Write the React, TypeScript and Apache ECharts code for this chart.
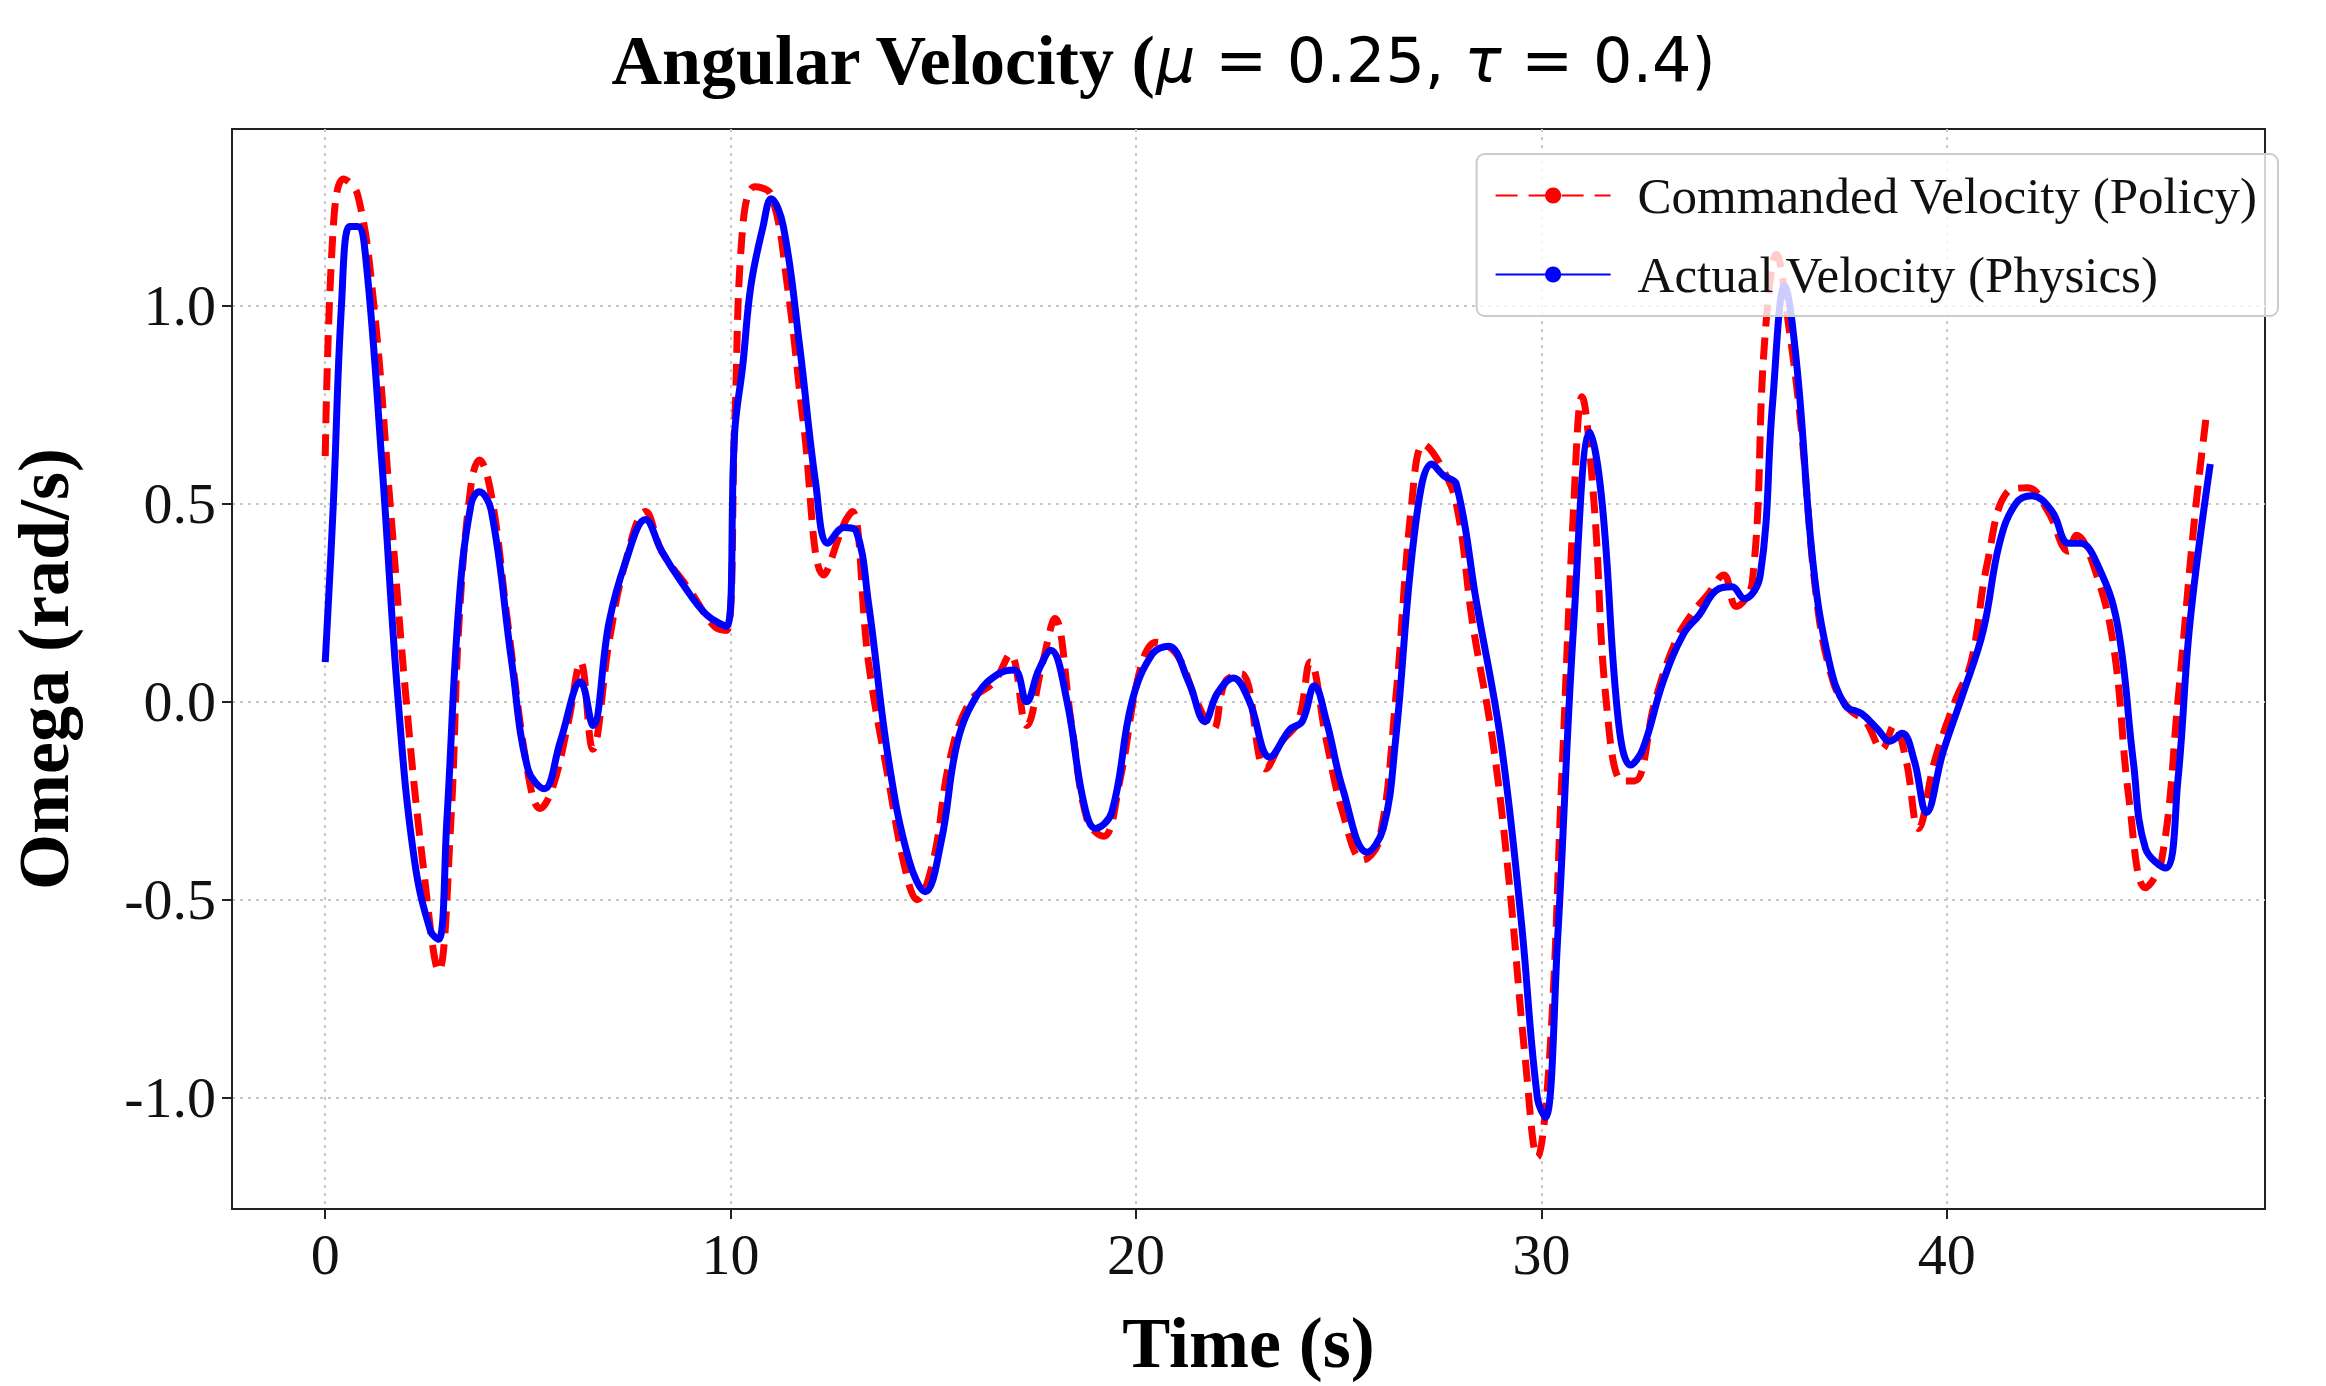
import React, { useEffect, useRef } from "react";
import * as echarts from "echarts";

const cmdT = [0,0.2,0.45,0.8,1.2,1.6,2.0,2.4,2.8,3.1,3.3,3.6,3.8,4.1,4.5,5.0,5.3,5.6,6.0,6.3,6.6,7.0,7.4,7.9,8.3,9.0,9.6,9.9,10.1,10.3,10.6,11.0,11.4,11.8,12.3,12.8,13.0,13.4,13.9,14.3,14.6,15.0,15.4,15.9,16.5,16.9,17.3,17.7,18.0,18.4,18.8,19.2,19.6,20.1,20.5,21.0,21.5,21.9,22.2,22.6,23.2,23.6,24.0,24.3,24.7,25.1,25.6,26.0,26.4,26.8,27.1,27.5,27.9,28.3,28.8,29.2,29.6,29.9,30.2,30.5,30.8,31.0,31.3,31.6,32.0,32.3,32.8,33.3,33.7,34.1,34.5,34.8,35.2,35.5,35.8,36.1,36.4,36.8,37.2,37.6,38.0,38.4,38.7,39.0,39.3,39.7,40.2,40.6,41.0,41.5,42.0,42.5,43.0,43.2,43.6,44.1,44.5,44.9,45.3,45.7,46.1,46.4];
const cmdV = [0.62,1.2,1.32,1.28,1.0,0.5,0.0,-0.4,-0.68,-0.3,0.2,0.55,0.61,0.52,0.2,-0.18,-0.27,-0.22,-0.05,0.1,-0.12,0.15,0.35,0.48,0.38,0.28,0.19,0.18,0.7,1.2,1.3,1.28,1.05,0.7,0.32,0.45,0.48,0.1,-0.2,-0.42,-0.5,-0.4,-0.15,0.0,0.05,0.12,-0.06,0.1,0.21,-0.05,-0.3,-0.34,-0.2,0.08,0.15,0.12,0.0,-0.07,0.05,0.07,-0.17,-0.1,-0.05,0.1,-0.1,-0.28,-0.4,-0.35,0.0,0.5,0.65,0.6,0.5,0.2,-0.1,-0.45,-0.9,-1.15,-0.9,-0.2,0.5,0.77,0.5,0.0,-0.2,-0.2,0.0,0.15,0.22,0.27,0.32,0.24,0.3,0.9,1.13,0.95,0.7,0.25,0.05,-0.02,-0.05,-0.12,-0.06,-0.15,-0.32,-0.15,0.0,0.1,0.35,0.53,0.54,0.48,0.38,0.42,0.35,0.15,-0.25,-0.47,-0.4,0.0,0.45,0.72];
const actT = [0,0.2,0.4,0.6,0.8,1.0,1.4,1.8,2.2,2.6,2.8,3.0,3.3,3.6,3.8,4.1,4.6,5.0,5.4,5.8,6.3,6.6,7.0,7.4,7.9,8.3,8.8,9.4,9.9,10.1,10.3,10.5,10.8,11.0,11.3,11.7,12.1,12.4,12.8,13.1,13.4,13.9,14.4,14.8,15.2,15.6,16.1,16.6,17.0,17.3,17.6,17.9,18.3,18.7,19.0,19.4,19.9,20.4,20.8,21.3,21.7,22.0,22.4,22.8,23.3,23.8,24.1,24.4,24.7,25.1,25.7,26.1,26.4,26.9,27.3,27.6,27.9,28.4,29.0,29.5,29.9,30.1,30.4,30.8,31.2,31.5,31.9,32.2,32.5,33.0,33.5,33.9,34.3,34.7,35.0,35.4,35.7,36.0,36.3,36.7,37.1,37.5,37.9,38.3,38.6,38.9,39.2,39.5,39.9,40.4,40.9,41.3,41.7,42.1,42.6,43.0,43.3,43.7,44.2,44.6,44.9,45.4,45.7,46.0,46.5];
const actV = [0.1,0.5,1.0,1.2,1.2,1.12,0.6,0.0,-0.4,-0.58,-0.6,-0.3,0.25,0.5,0.53,0.48,0.1,-0.17,-0.22,-0.1,0.05,-0.06,0.2,0.35,0.46,0.38,0.3,0.22,0.19,0.68,0.85,1.05,1.2,1.27,1.2,0.9,0.55,0.4,0.44,0.43,0.25,-0.15,-0.4,-0.48,-0.35,-0.1,0.02,0.07,0.08,0.0,0.08,0.13,0.0,-0.25,-0.32,-0.28,0.0,0.12,0.14,0.05,-0.05,0.02,0.06,0.0,-0.14,-0.07,-0.05,0.04,-0.05,-0.22,-0.38,-0.32,-0.1,0.45,0.6,0.57,0.55,0.25,-0.1,-0.55,-1.0,-1.05,-0.6,0.2,0.68,0.5,-0.05,-0.16,-0.12,0.05,0.17,0.22,0.28,0.29,0.26,0.32,0.75,1.05,0.85,0.35,0.1,-0.01,-0.03,-0.07,-0.1,-0.08,-0.15,-0.28,-0.13,0.02,0.18,0.4,0.5,0.52,0.48,0.4,0.4,0.35,0.2,-0.15,-0.37,-0.42,-0.2,0.2,0.6];
const xTicks = [0, 10, 20, 30, 40];
const yTicks = [-1.0, -0.5, 0.0, 0.5, 1.0];

const serif = "'Liberation Serif', 'Times New Roman', serif";
const sans = "'DejaVu Sans', sans-serif";

export default function App() {
  const ref = useRef<HTMLDivElement>(null);
  useEffect(() => {
    const chart = echarts.init(ref.current!, null, { renderer: "svg" });
    chart.setOption({
      animation: false,
      backgroundColor: "#fff",
      title: {
        text: "{a|Angular Velocity (}{b|μ}{c| = 0.25, }{b|τ}{c| = 0.4)}",
        left: "center",
        top: 20,
        textStyle: {
          fontWeight: "normal",
          rich: {
            a: { fontFamily: serif, fontWeight: "bold", fontSize: 70, color: "#000" },
            b: { fontFamily: sans, fontStyle: "italic", fontWeight: "normal", fontSize: 62, color: "#000" },
            c: { fontFamily: sans, fontWeight: "normal", fontSize: 62, color: "#000" },
          },
        },
      },
      legend: {
        right: 48,
        top: 154,
        orient: "vertical",
        itemWidth: 115,
        itemHeight: 20,
        itemGap: 28,
        padding: [16, 20, 16, 18],
        borderColor: "#ccc",
        borderWidth: 2,
        borderRadius: 8,
        backgroundColor: "rgba(255,255,255,0.8)",
        textStyle: { fontFamily: serif, fontSize: 51, color: "#111", padding: [0, 0, 0, 22] },
        data: ["Commanded Velocity (Policy)", "Actual Velocity (Physics)"],
      },
      grid: {
        left: 220, right: 61, top: 129, bottom: 177,
        show: true, borderColor: "#222", borderWidth: 2, backgroundColor: "transparent",
      },
      xAxis: {
        type: "value",
        min: -2.3,
        max: 47.85,
        name: "Time (s)",
        nameLocation: "middle",
        nameGap: 98,
        nameTextStyle: { fontFamily: serif, fontWeight: "bold", fontSize: 72, color: "#000" },
        axisLine: { show: true, onZero: false, lineStyle: { color: "#222", width: 2 } },
        axisTick: { show: true, length: 10, lineStyle: { color: "#222", width: 2 }, customValues: xTicks },
        axisLabel: { customValues: xTicks, fontFamily: serif, fontSize: 58, color: "#111", margin: 16 },
        splitLine: { show: true, lineStyle: { color: "#c8c8c8", type: [3, 5], width: 2 } },
      },
      yAxis: {
        type: "value",
        min: -1.281,
        max: 1.446,
        name: "Omega (rad/s)",
        nameLocation: "middle",
        nameGap: 152,
        nameTextStyle: { fontFamily: serif, fontWeight: "bold", fontSize: 72, color: "#000" },
        axisLine: { show: true, onZero: false, lineStyle: { color: "#222", width: 2 } },
        axisTick: { show: true, length: 10, lineStyle: { color: "#222", width: 2 }, customValues: yTicks },
        axisLabel: {
          customValues: yTicks, fontFamily: serif, fontSize: 58, color: "#111", margin: 16,
          formatter: (v: number) => v.toFixed(1),
        },
        splitLine: { show: true, lineStyle: { color: "#c8c8c8", type: [3, 5], width: 2 } },
      },
      series: [
        {
          name: "Commanded Velocity (Policy)",
          type: "line",
          symbol: "none",
          smooth: 0.4,
          data: cmdT.map((t, i) => [t, cmdV[i]]),
          lineStyle: { color: "#ff0000", width: 7, type: [22, 11] },
          itemStyle: { color: "#ff0000" },
        },
        {
          name: "Actual Velocity (Physics)",
          type: "line",
          symbol: "none",
          smooth: 0.4,
          data: actT.map((t, i) => [t, actV[i]]),
          lineStyle: { color: "#0000ff", width: 7 },
          itemStyle: { color: "#0000ff" },
        },
      ],
    });
    return () => chart.dispose();
  }, []);
  return <div ref={ref} style={{ position: "fixed", left: 0, top: 0, width: 2326, height: 1386 }} />;
}
